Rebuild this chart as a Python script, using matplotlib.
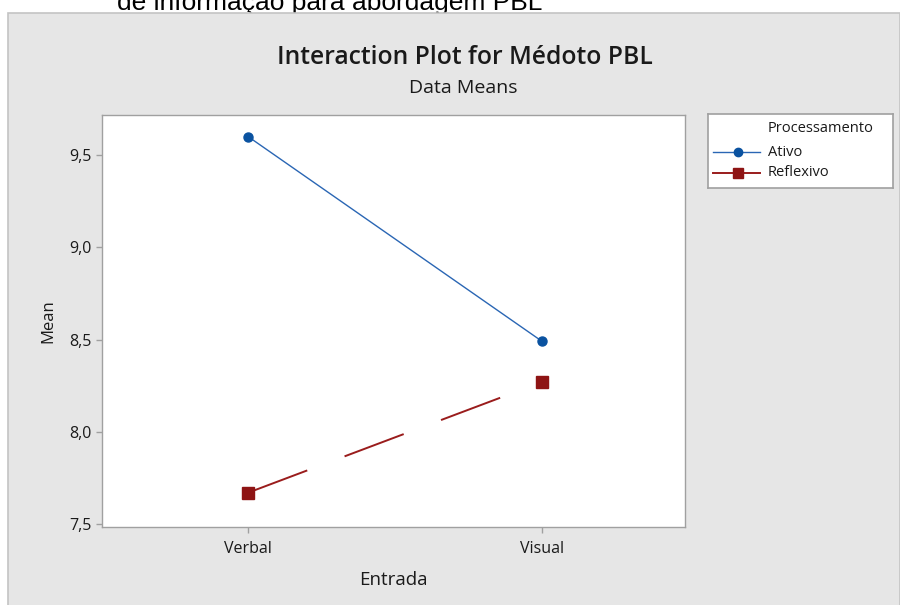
import matplotlib
matplotlib.use('Agg')
import matplotlib.pyplot as plt
from matplotlib.patches import Rectangle
from matplotlib.ticker import FuncFormatter

# data
entrada = ['Verbal', 'Visual']
ativo = [9.60, 8.49]
reflexivo = [7.67, 8.27]
yticks = [7.5, 8.0, 8.5, 9.0, 9.5]

plt.rcParams['font.family'] = ['Open Sans', 'DejaVu Sans']

fig = plt.figure(figsize=(9, 6.05), dpi=100)
fig.patch.set_facecolor('white')

# grey minitab panel
panel = Rectangle((8 / 900, -0.01), 1 - 8 / 900, 1 - 13 / 605 + 0.01, transform=fig.transFigure,
                  facecolor='#e6e6e6', edgecolor='#c4c4c4', linewidth=1.2, zorder=-10)
fig.patches.append(panel)

# caption from the document, cut at the top
fig.text(117 / 900, 1 - 10 / 605, 'de informação para abordagem PBL', family='Liberation Sans',
         fontsize=19, color='black', va='baseline', ha='left', zorder=-20)

ax = fig.add_axes([102 / 900, 1 - 527 / 605, 583 / 900, 412 / 605])
ax.set_facecolor('white')
x = [1, 2]
ax.plot(x, ativo, color='#2a66b4', linewidth=1.0, marker='o', markersize=6.5,
        markeredgecolor='#0a52a0', markerfacecolor='#0a52a0', label='Ativo')
ax.plot(x, reflexivo, color='#9a1c1c', linewidth=1.4, linestyle=(0, (32.5, 20.5)), marker='s',
        markersize=8, markerfacecolor='#8e1414', markeredgecolor='#8e1414', label='Reflexivo')

ax.set_xlim(0.503, 2.486)
ax.set_ylim(7.484, 9.717)
ax.set_xticks(x)
ax.set_xticklabels(entrada)
ax.set_yticks(yticks)
ax.yaxis.set_major_formatter(FuncFormatter(lambda v, p: ('%.1f' % v).replace('.', ',')))
for s in ax.spines.values():
    s.set_color('#a0a0a0')
    s.set_linewidth(1.0)
ax.tick_params(colors='#a0a0a0', length=4, width=1, labelcolor='#1a1a1a', labelsize=11.5)
ax.tick_params(axis='x', pad=6)
ax.set_xlabel('Entrada', fontsize=13.5, color='#1a1a1a', labelpad=10)
ax.set_ylabel('Mean', fontsize=12, color='#1a1a1a', labelpad=9)

fig.text(465 / 900, 1 - 58 / 605, 'Interaction Plot for Médoto PBL', fontsize=17.7,
         fontweight='semibold', color='#1a1a1a', ha='center', va='center')
fig.text(463 / 900, 1 - 88 / 605, 'Data Means', fontsize=14, color='#1a1a1a',
         ha='center', va='center')

# legend box
lg = fig.add_axes([708 / 900, 1 - 188 / 605, 185 / 900, 74 / 605])
lg.set_xlim(0, 185)
lg.set_ylim(74, 0)
lg.set_xticks([])
lg.set_yticks([])
lg.set_facecolor('white')
for s in lg.spines.values():
    s.set_color('#a0a0a0')
    s.set_linewidth(1.2)
lg.text(60, 15, 'Processamento', fontsize=10.5, va='center', ha='left', color='#1a1a1a')
lg.plot([5, 52], [38, 38], color='#2a66b4', linewidth=1.0)
lg.plot([30], [38], marker='o', markersize=6, color='#0a52a0')
lg.text(60, 38, 'Ativo', fontsize=10.5, va='center', ha='left', color='#1a1a1a')
lg.plot([5, 52], [59, 59], color='#9a1c1c', linewidth=1.4)
lg.plot([30], [59], marker='s', markersize=7.5, color='#8e1414')
lg.text(60, 59, 'Reflexivo', fontsize=10.5, va='center', ha='left', color='#1a1a1a')

fig.savefig('out.png', dpi=100)
